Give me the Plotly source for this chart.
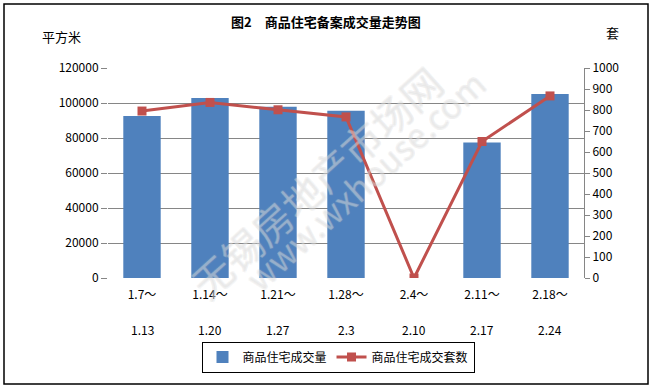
import plotly.graph_objects as go

weeks_start = ["1.7～", "1.14～", "1.21～", "1.28～", "2.4～", "2.11～", "2.18～"]
weeks_end = ["1.13", "1.20", "1.27", "2.3", "2.10", "2.17", "2.24"]
area_sqm = [92600, 102900, 97900, 95600, 0, 77500, 105100]
units = [795, 836, 801, 767, 0, 650, 867]

cats = list(range(len(weeks_start)))

FONT = "SimSun, 'Noto Sans CJK SC', sans-serif"
GRID = "#868686"
L, R, T, B = 108, 584, 68, 278


def px_x(px):
    return (px - L) / (R - L)


def px_y(py):
    return (B - py) / (B - T)


fig = go.Figure()
fig.add_trace(go.Bar(
    x=cats, y=area_sqm, name="商品住宅成交量",
    marker=dict(color="#4F81BD", line=dict(width=0)),
    yaxis="y",
))
fig.add_trace(go.Scatter(
    x=cats, y=units, name="商品住宅成交套数", yaxis="y2",
    mode="lines+markers",
    line=dict(color="#C0504D", width=3),
    marker=dict(symbol="square", size=9, color="#C0504D"),
))

shadow = ", ".join(f"{dx}px {dy}px 0 rgba(185,185,185,0.5)" for dx, dy in
                   [(1, 0), (-1, 0), (0, 1), (0, -1)])
wm = [("无锡房地产市场网", 316, 182, 40), ("www.wxhouse.com", 364, 180, 34)]
for t, px, py, fs in wm:
    fig.add_annotation(
        text=t, x=px_x(px), y=px_y(py), xref="paper", yref="paper",
        showarrow=False, textangle=-42,
        font=dict(family="'Noto Sans CJK SC', sans-serif", size=fs,
                  color="rgba(255,255,255,0.25)", shadow=shadow),
    )

# second line of the week labels
for c, lab in zip(cats, weeks_end):
    fig.add_annotation(text=lab, x=c, y=px_y(329), xref="x", yref="paper",
                       showarrow=False, xanchor="center", yanchor="middle",
                       font=dict(family=FONT, size=12, color="black"))

fig.add_annotation(text="<b>图2　商品住宅备案成交量走势图</b>", x=px_x(326), y=px_y(22),
                   xref="paper", yref="paper", showarrow=False,
                   xanchor="center", yanchor="middle",
                   font=dict(family=FONT, size=13, color="black"))
fig.add_annotation(text="平方米", x=px_x(61), y=px_y(36), xref="paper",
                   yref="paper", showarrow=False, xanchor="center", yanchor="middle",
                   font=dict(family=FONT, size=13, color="black"))
fig.add_annotation(text="套", x=px_x(612), y=px_y(33), xref="paper",
                   yref="paper", showarrow=False, xanchor="center", yanchor="middle",
                   font=dict(family=FONT, size=13, color="black"))

# outer border
fig.add_shape(type="rect", xref="paper", yref="paper",
              x0=px_x(4), x1=px_x(648), y0=px_y(384), y1=px_y(4),
              line=dict(color="black", width=1.5), layer="above")

fig.update_layout(
    width=653, height=389,
    margin=dict(l=L, r=653 - R, t=T, b=389 - B),
    paper_bgcolor="white", plot_bgcolor="white",
    bargap=0.45,
    font=dict(family=FONT, size=12, color="black"),
    showlegend=True,
    legend=dict(orientation="h", x=px_x(338), xanchor="center",
                y=px_y(357), yanchor="middle",
                bordercolor="black", borderwidth=1, bgcolor="white",
                font=dict(family=FONT, size=12), itemwidth=30,
                tracegroupgap=0),
    xaxis=dict(tickmode="array", tickvals=cats, ticktext=weeks_start,
               range=[-0.5, len(cats) - 0.5], showgrid=False, zeroline=False,
               showline=False, ticks="", ticklabelstandoff=8,
               tickfont=dict(family=FONT, size=12)),
    yaxis=dict(range=[0, 120000], dtick=20000, showgrid=True, gridcolor=GRID,
               gridwidth=1, zeroline=False, showline=False, ticks="outside",
               ticklen=6, tickcolor=GRID, tickformat="d",
               tickfont=dict(family=FONT, size=12)),
    yaxis2=dict(range=[0, 1000], dtick=100, overlaying="y", side="right",
                showgrid=False, zeroline=False, showline=True, linecolor=GRID,
                ticks="outside", ticklen=5, tickcolor=GRID,
                tickfont=dict(family=FONT, size=12)),
)

fig.write_html("out.html", config={"displayModeBar": False},
               post_script="document.body.style.margin='0';document.body.style.overflow='hidden';")
